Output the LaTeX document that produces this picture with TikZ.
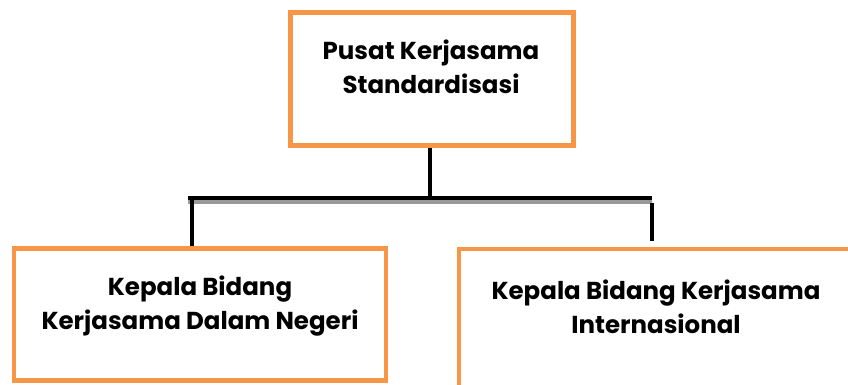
\documentclass[tikz,border=0pt]{standalone}
\usepackage{fontspec}
\setmainfont{Poppins}
\usetikzlibrary{positioning}
\usetikzlibrary{calc}
\definecolor{unitorange}{HTML}{F79646}

\begin{document}
\begin{tikzpicture}[x=1pt, y=-1pt,
		unit/.style = {draw=unitorange, line width=4.5pt, fill=white, inner sep=0pt},
		txt/.style = {align=center, font=\fontsize{24.5}{34}\selectfont\bfseries},
		conn/.style = {line width=4.5pt, black},
		shade/.style = {line width=4pt, black!40}]
	\clip (0,0) rectangle (848,385);
	\node[unit, minimum width=283pt, minimum height=133pt] (pusat) at (432,79) {};
	\node[unit, minimum width=372pt, minimum height=132pt] (dalam) at (200,314.5) {};
	\node[unit, minimum width=420pt, minimum height=160pt] (intl) at (669,329) {};
	\node[txt] (pusatTxt) at (431,67) {Pusat Kerjasama\\Standardisasi};
	\node[txt] (dalamTxt) at (200,306) {Kepala Bidang\\Kerjasama Dalam Negeri};
	\node[txt] (intlTxt) at (656,306.5) {Kepala Bidang Kerjasama\\Internasional};
	\coordinate (junc) at (430,198);
	\coordinate (barL) at (188,198);
	\coordinate (barR) at (652,198);
	\coordinate (dropL) at (192,198);
	\coordinate (dropR) at (652,203);
	\draw[shade] ($(barL)+(0,4)$) -- ($(barR)+(0,4)$);
	\draw[conn] (pusat.south -| junc) -- (junc);
	\draw[conn] (barL) -- (barR);
	\draw[conn] (dropL) -- (dropL |- dalam.north);
	\draw[conn] (dropR) -- ($(dropR |- intl.north)+(0,-6)$);
\end{tikzpicture}
\end{document}
